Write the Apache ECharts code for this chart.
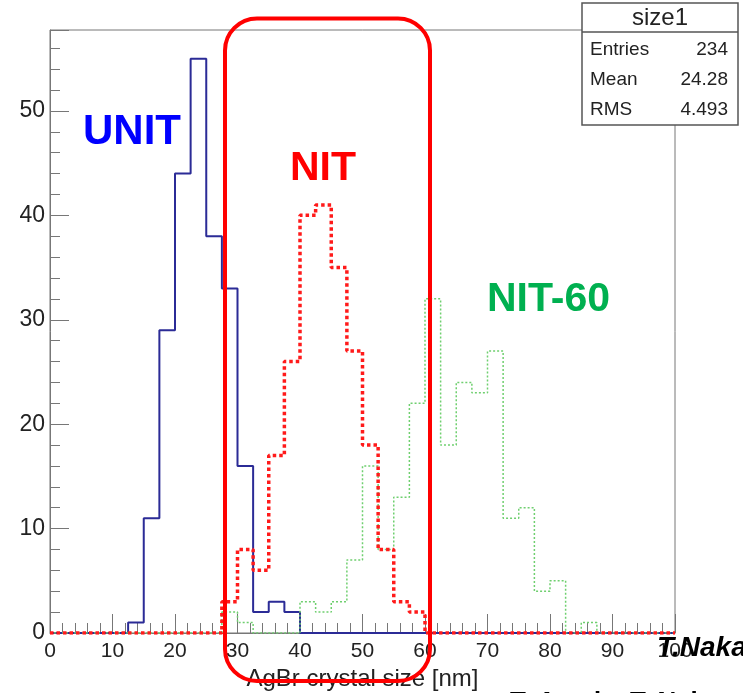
<!DOCTYPE html>
<html>
<head>
<meta charset="utf-8">
<script src="https://cdn.jsdelivr.net/npm/echarts@6/dist/echarts.min.js"></script>
<style>
  html, body { margin: 0; padding: 0; background: #fff; }
  #chart { width: 743px; height: 693px; }
</style>
</head>
<body>
<div id="chart"></div>
<script>
// 40 bins of 2.5 nm between 0 and 100
const binWidth = 2.5
const binCount = 40

// counts per bin
const unitCounts = [0,0,0,0,0,1,11,29,44,55, 38,33,16,2,3,2,0,0,0,0, 0,0,0,0,0,0,0,0,0,0, 0,0,0,0,0,0,0,0,0,0]
const nitCounts = [0,0,0,0,0,0,0,0,0,0, 0,3,8,6,17,26,40,41,35,27, 18,8,3,2,0,0,0,0,0,0, 0,0,0,0,0,0,0,0,0,0]
const nit60Counts = [0,0,0,0,0,0,0,0,0,0, 0,2,1,0,0,0,3,2,3,7, 16,8,13,22,32,18,24,23,27,11, 12,4,5,0,1,0,0,0,0,0]

// stats box
const statsTitle = 'size1'
const statsLabels = ['Entries', 'Mean', 'RMS']
const statsValues = ['234', '24.28', '4.493']

const FONT = 'Liberation Sans, Arial, Helvetica, sans-serif'
const AXIS_COLOR = '#777'

// histogram outline as step points: [lowEdge, count] + closing edge
const toSteps = (counts) => {
  const pts = counts.map((c, i) => [i * binWidth, c])
  pts.push([binCount * binWidth, counts[counts.length - 1]])
  return pts
}

const chart = echarts.init(document.getElementById('chart'))

const statsRows = statsLabels.flatMap((label, i) => [
  { type: 'text', z: 110, style: { x: 590, y: 50 + i * 30, text: label, font: '19px ' + FONT, fill: '#222', verticalAlign: 'middle' } },
  { type: 'text', z: 110, style: { x: 728, y: 50 + i * 30, text: statsValues[i], font: '19px ' + FONT, fill: '#222', align: 'right', verticalAlign: 'middle' } }
])

const option = {
  animation: false,
  backgroundColor: '#fff',
  grid: {
    left: 50, right: 68, top: 30, bottom: 60,
    containLabel: false,
    outerBoundsMode: 'none',
    show: true,
    borderColor: AXIS_COLOR,
    borderWidth: 1,
    backgroundColor: '#fff'
  },
  xAxis: {
    type: 'value',
    min: 0, max: 100, interval: 10,
    name: 'AgBr crystal size [nm]',
    nameLocation: 'middle',
    nameGap: 22,
    nameTextStyle: { fontSize: 24, color: '#222', fontFamily: FONT },
    axisLine: { show: true, onZero: false, lineStyle: { color: AXIS_COLOR, width: 1 } },
    axisTick: { inside: true, length: 19, lineStyle: { color: AXIS_COLOR } },
    minorTick: { show: true, splitNumber: 5, length: 10, lineStyle: { color: AXIS_COLOR } },
    axisLabel: { fontSize: 21, color: '#222', fontFamily: FONT, margin: 8 },
    splitLine: { show: false }
  },
  yAxis: [
    {
      type: 'value',
      min: 0, max: 57.75, interval: 10,
      axisLine: { show: true, lineStyle: { color: AXIS_COLOR, width: 1 } },
      axisTick: { inside: true, length: 19, lineStyle: { color: AXIS_COLOR } },
      axisLabel: {
        fontSize: 23, color: '#222', fontFamily: FONT, margin: 5,
        formatter: v => (v % 10 === 0 ? String(v) : '')
      },
      splitLine: { show: false }
    },
    {
      // minor ticks every 2 units
      type: 'value',
      position: 'left',
      offset: 0,
      min: 0, max: 57.75, interval: 2,
      axisLine: { show: false },
      axisTick: { inside: true, length: 10, lineStyle: { color: AXIS_COLOR } },
      axisLabel: { show: false },
      splitLine: { show: false }
    }
  ],
  series: [
    {
      name: 'UNIT', type: 'line', step: 'end', data: toSteps(unitCounts),
      showSymbol: false, z: 3,
      lineStyle: { color: '#2b2b96', width: 2 }
    },
    {
      name: 'NIT-60', type: 'line', step: 'end', data: toSteps(nit60Counts),
      showSymbol: false, z: 4,
      lineStyle: { color: '#6fcf6f', width: 1.5, type: [2, 2] }
    },
    {
      name: 'NIT', type: 'line', step: 'end', data: toSteps(nitCounts),
      showSymbol: false, z: 5,
      lineStyle: { color: '#ff1a1a', width: 3.5, type: [3.5, 3] }
    }
  ],
  graphic: [
    // stats box
    { type: 'rect', z: 100, shape: { x: 582, y: 3, width: 156, height: 122 }, style: { fill: '#fff', stroke: '#555', lineWidth: 1.5 } },
    { type: 'line', z: 101, shape: { x1: 582, y1: 32, x2: 738, y2: 32 }, style: { stroke: '#555', lineWidth: 1.5 } },
    { type: 'text', z: 110, style: { x: 660, y: 18, text: statsTitle, font: '24px ' + FONT, fill: '#222', align: 'center', verticalAlign: 'middle' } },
    ...statsRows,
    // annotations
    { type: 'text', z: 120, style: { x: 83, y: 132, text: 'UNIT', font: 'bold 42px ' + FONT, fill: '#0000ff', verticalAlign: 'middle' } },
    { type: 'text', z: 120, style: { x: 290, y: 169, text: 'NIT', font: 'bold 41px ' + FONT, fill: '#ff0000', verticalAlign: 'middle' } },
    { type: 'text', z: 120, style: { x: 487, y: 300, text: 'NIT-60', font: 'bold 41px ' + FONT, fill: '#00b050', verticalAlign: 'middle' } },
    { type: 'rect', z: 130, shape: { x: 225, y: 18.5, width: 205, height: 662.5, r: 32 }, style: { fill: 'none', stroke: '#ff0000', lineWidth: 4 } },
    { type: 'text', z: 120, style: { x: 657, y: 648, text: 'T.Naka', font: 'italic bold 28px ' + FONT, fill: '#000', verticalAlign: 'middle' } },
    { type: 'text', z: 120, style: { x: 510, y: 703, text: 'T. Asada, T. Naka', font: 'bold 26px ' + FONT, fill: '#000', verticalAlign: 'middle' } }
  ]
}

chart.setOption(option)
</script>
</body>
</html>
